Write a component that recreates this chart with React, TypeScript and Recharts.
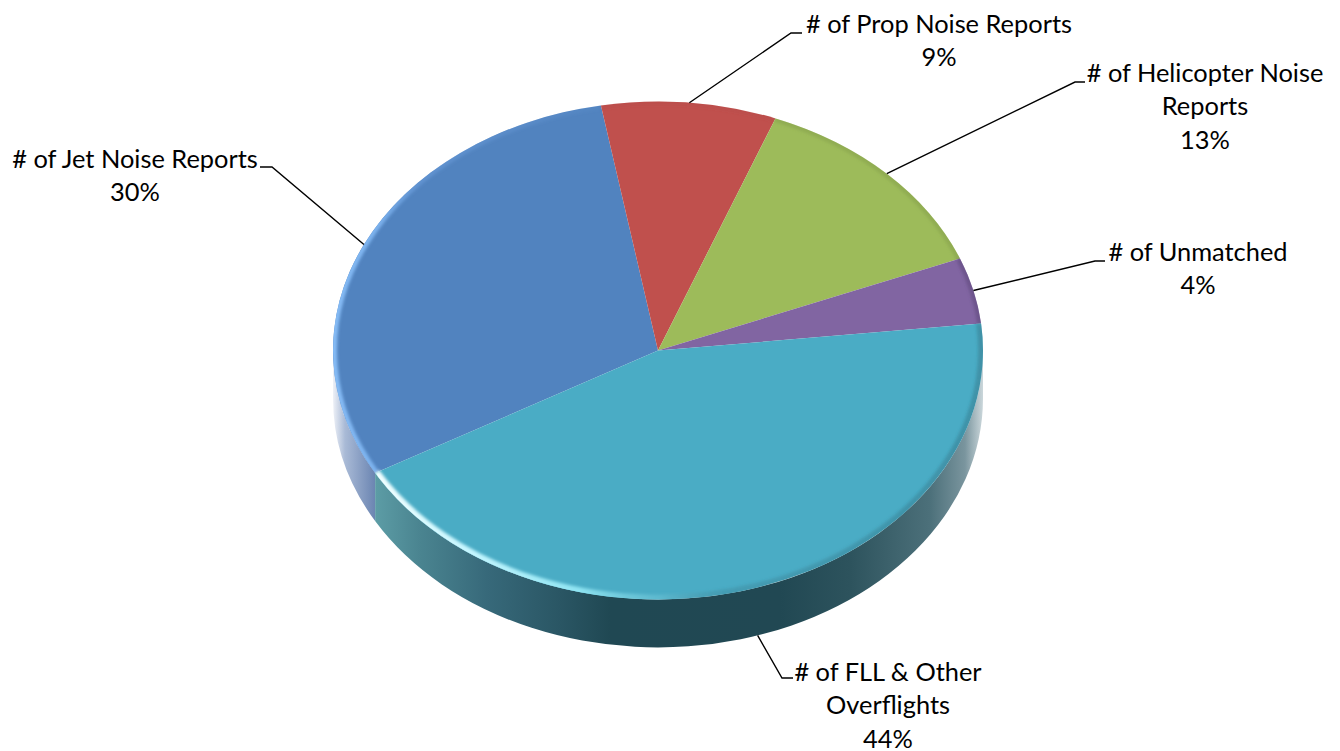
import { Pie, PieChart } from "recharts";

const categories = [
  "# of Jet Noise Reports",
  "# of Prop Noise Reports",
  "# of Helicopter Noise Reports",
  "# of Unmatched",
  "# of FLL & Other Overflights",
];
const shares = [30.4, 8.7, 13.1, 4.3, 43.55];
const labelLines = [
  ["# of Jet Noise Reports"],
  ["# of Prop Noise Reports"],
  ["# of Helicopter Noise", "Reports"],
  ["# of Unmatched"],
  ["# of FLL & Other", "Overflights"],
];

const colors = ["#5183bf", "#c0504d", "#9dbb5a", "#8165a2", "#4aacc5"];

// leader elbow + end, then text centre and first baseline
const labelLayout = [
  { elbow: [272, 167], end: [260, 167], textX: 135, textY: 168 },
  { elbow: [791, 33], end: [802, 33], textX: 939, textY: 33 },
  { elbow: [1075, 82], end: [1085, 82], textX: 1205, textY: 82 },
  { elbow: [1095, 261], end: [1105, 261], textX: 1198, textY: 261 },
  { elbow: [782, 678], end: [793, 678], textX: 888, textY: 680.7 },
];

const CX = 658;
const CY = 350.5;
const RX = 325;
const SQUASH = 0.766;
const DEPTH = 48;
const FONT = "Lato, Carlito, sans-serif";

const data = categories.map((name, i) => ({ name, value: shares[i], fill: colors[i] }));

const rad = (a: number) => (a * Math.PI) / 180;
const px = (cx: number, r: number, a: number) => cx + r * Math.cos(rad(a));
const py = (cy: number, r: number, a: number) => cy - r * SQUASH * Math.sin(rad(a));

function arc(cx: number, cy: number, r: number, from: number, to: number, moveFirst: boolean) {
  // clockwise on screen, from > to
  const large = from - to > 180 ? 1 : 0;
  const head = moveFirst ? `M${px(cx, r, from)},${py(cy, r, from)}` : "";
  return `${head}A${r},${r * SQUASH} 0 ${large} 1 ${px(cx, r, to)},${py(cy, r, to)}`;
}

function TopSlice(props: any) {
  const { cx, cy, outerRadius: r, startAngle, endAngle, fill, index } = props;
  const sector = `M${cx},${cy}L${px(cx, r, startAngle)},${py(cy, r, startAngle)}${arc(cx, cy, r, startAngle, endAngle, false)}Z`;
  return (
    <g>
      <path d={sector} fill={fill} />
      <g clipPath="url(#topClip)">
        <path
          d={arc(cx, cy, r - 1, startAngle, endAngle, true)}
          fill="none"
          stroke={`url(#rim${index})`}
          strokeWidth={index === 4 ? 8 : 6}
          filter="url(#soft)"
        />
      </g>
    </g>
  );
}

function WallSlice(props: any) {
  const { cx, cy, outerRadius: r, startAngle, endAngle, index } = props;
  // only the part of the rim facing the viewer (lower half of the ellipse)
  const parts: [number, number][] = [];
  for (const [hi, lo] of [[360, 180], [0, -180]]) {
    const from = Math.min(startAngle, hi);
    const to = Math.max(endAngle, lo);
    if (from > to) parts.push([from, to]);
  }
  return (
    <g>
      {parts.map(([from, to]) => {
        const d =
          arc(cx, cy, r, from, to, true) +
          `L${px(cx, r, to)},${py(cy, r, to) + DEPTH}` +
          `A${r},${r * SQUASH} 0 ${from - to > 180 ? 1 : 0} 0 ${px(cx, r, from)},${py(cy, r, from) + DEPTH}Z`;
        return <path key={from} d={d} fill={`url(#wall${index})`} />;
      })}
    </g>
  );
}

function SliceLabel(props: any) {
  const { cx, cy, outerRadius: r, midAngle, percent, index } = props;
  const spot = labelLayout[index];
  const lines = labelLines[index];
  const front = Math.sin(rad(midAngle)) < 0;
  const startX = px(cx, r, midAngle);
  const startY = py(cy, r, midAngle) + (front ? DEPTH : 0);
  return (
    <g>
      <polyline
        points={`${startX},${startY} ${spot.elbow.join(",")} ${spot.end.join(",")}`}
        fill="none"
        stroke="#000"
        strokeWidth={1.4}
      />
      <text x={spot.textX} y={spot.textY} textAnchor="middle" fontFamily={FONT} fontSize={25.4} fill="#000">
        {[...lines, `${Math.round(percent * 100)}%`].map((line, i) => (
          <tspan key={i} x={spot.textX} dy={i === 0 ? 0 : 33.4}>
            {line}
          </tspan>
        ))}
      </text>
    </g>
  );
}

function XGradient({ id, stops }: { id: string; stops: [number, string, number][] }) {
  return (
    <linearGradient id={id} gradientUnits="userSpaceOnUse" x1={CX - RX} y1={0} x2={CX + RX} y2={0}>
      {stops.map(([x, color, opacity]) => (
        <stop key={x} offset={(x - (CX - RX)) / (2 * RX)} stopColor={color} stopOpacity={opacity} />
      ))}
    </linearGradient>
  );
}

export default function App() {
  return (
    <div style={{ position: "absolute", left: 0, top: 0, width: 1340, height: 751, background: "#fff" }}>
      <PieChart width={1340} height={751} margin={{ top: 0, right: 0, bottom: 0, left: 0 }}>
        <defs>
          <filter id="soft" filterUnits="userSpaceOnUse" x="300" y="70" width="720" height="560">
            <feGaussianBlur stdDeviation="1.6" />
          </filter>
          <clipPath id="topClip">
            <ellipse cx={CX} cy={CY} rx={RX} ry={RX * SQUASH} />
          </clipPath>
          <XGradient
            id="wall0"
            stops={[
              [333, "#eef1f7", 1],
              [345, "#a9bad6", 1],
              [378, "#6580ae", 1],
            ]}
          />
          <XGradient id="wall1" stops={[[333, "#7a3331", 1], [983, "#7a3331", 1]]} />
          <XGradient id="wall2" stops={[[333, "#5f7437", 1], [983, "#5f7437", 1]]} />
          <XGradient id="wall3" stops={[[333, "#4f3e65", 1], [983, "#4f3e65", 1]]} />
          <XGradient
            id="wall4"
            stops={[
              [376, "#5c9ca5", 1],
              [420, "#4a8490", 1],
              [487, "#37697a", 1],
              [560, "#2a5664", 1],
              [610, "#204853", 1],
              [780, "#214853", 1],
              [850, "#2d535d", 1],
              [930, "#4c707a", 1],
              [965, "#7a959e", 1],
              [983, "#cbd7db", 1],
            ]}
          />
          <XGradient
            id="rim0"
            stops={[
              [333, "#86bcf6", 1],
              [378, "#7cb2ee", 1],
              [420, "#6a9cdb", 0.6],
              [600, "#6a9cdb", 0.1],
            ]}
          />
          <XGradient id="rim1" stops={[[333, "#a04140", 0.15], [983, "#a04140", 0.15]]} />
          <XGradient id="rim2" stops={[[333, "#7d9745", 0.4], [983, "#7d9745", 0.4]]} />
          <XGradient id="rim3" stops={[[333, "#5f4a7e", 0.6], [983, "#5f4a7e", 0.6]]} />
          <XGradient
            id="rim4"
            stops={[
              [376, "#f2ffff", 1],
              [470, "#c4f6ff", 1],
              [580, "#8ee4f2", 1],
              [660, "#6fc6d8", 0.5],
              [730, "#2d6b7c", 0.25],
              [983, "#2d6b7c", 0.4],
            ]}
          />
        </defs>
        <Pie
          data={data}
          dataKey="value"
          nameKey="name"
          cx={CX}
          cy={CY}
          outerRadius={RX}
          startAngle={209.5}
          endAngle={-150.5}
          stroke="none"
          shape={WallSlice}
          isAnimationActive={false}
        />
        <Pie
          data={data}
          dataKey="value"
          nameKey="name"
          cx={CX}
          cy={CY}
          outerRadius={RX}
          startAngle={209.5}
          endAngle={-150.5}
          stroke="none"
          shape={TopSlice}
          label={SliceLabel}
          labelLine={false}
          isAnimationActive={false}
        />
      </PieChart>
    </div>
  );
}
